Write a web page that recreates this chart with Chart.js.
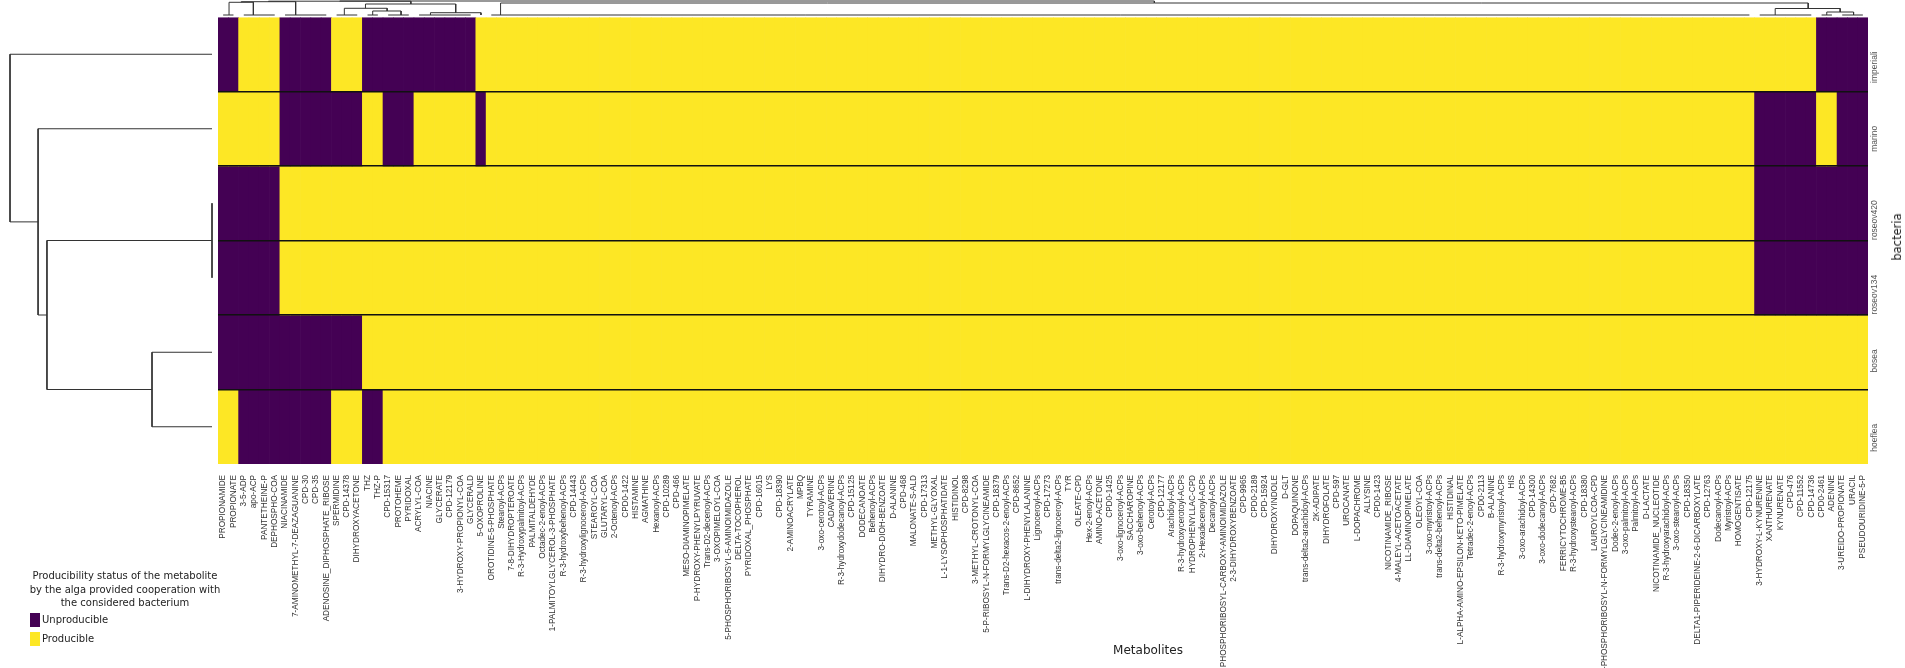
<!DOCTYPE html>
<html><head><meta charset="utf-8">
<script src="https://cdn.jsdelivr.net/npm/chart.js@4.4.1/dist/chart.umd.min.js"></script>
<style>
html,body{margin:0;padding:0;background:#fff;}
body{width:1905px;height:668px;position:relative;overflow:hidden;font-family:"DejaVu Sans",sans-serif;}
canvas{position:absolute;}
#heat{left:0;top:0;}
#rowDendro{left:0;top:0;}
#colDendro{left:218px;top:0;}
.t{position:absolute;color:#222;white-space:nowrap;font-family:"DejaVu Sans",sans-serif;}
.sw{position:absolute;width:10px;height:14px;}
</style></head><body>
<canvas id="heat" width="1905" height="668"></canvas>
<canvas id="rowDendro" width="218" height="481"></canvas>
<canvas id="colDendro" width="1650" height="18"></canvas>
<div class="t" id="xTitle" style="left:1148px;top:650px;font-size:12px;transform:translate(-50%,-50%);">Metabolites</div>
<div class="t" id="yTitle" style="left:1897px;top:237px;font-size:11.5px;transform:translate(-50%,-50%) rotate(-90deg);">bacteria</div>
<div class="t" style="left:5px;top:569px;width:240px;text-align:center;font-size:10px;line-height:13.5px;white-space:normal;">Producibility status of the metabolite<br>by the alga provided cooperation with<br>the considered bacterium</div>
<div class="sw" style="left:30px;top:613px;background:#440154;"></div>
<div class="t" id="lg0" style="left:42px;top:613px;font-size:10px;line-height:14px;"></div>
<div class="sw" style="left:30px;top:632px;background:#fde725;"></div>
<div class="t" id="lg1" style="left:42px;top:632px;font-size:10px;line-height:14px;"></div>
<script>
const bacteria = ['imperiali','marino','roseov420','roseov134','bosea','hoeflea'];
const statusLabels = ['Unproducible','Producible'];
const metabolites = [
'PROPIONAMIDE','PROPIONATE','3-5-ADP','apo-ACP','PANTETHEINE-P','DEPHOSPHO-COA','NIACINAMIDE','7-AMINOMETHYL-7-DEAZAGUANINE','CPD-30','CPD-35',
'ADENOSINE_DIPHOSPHATE_RIBOSE','SPERMIDINE','CPD-14378','DIHYDROXYACETONE','THZ','THZ-P','CPD-15317','PROTOHEME','PYRIDOXAL','ACRYLYL-COA',
'NIACINE','GLYCERATE','CPD-12179','3-HYDROXY-PROPIONYL-COA','GLYCERALD','5-OXOPROLINE','OROTIDINE-5-PHOSPHATE','Stearoyl-ACPs','7-8-DIHYDROPTEROATE','R-3-Hydroxypalmitoyl-ACPs',
'PALMITALDEHYDE','Octadec-2-enoyl-ACPs','1-PALMITOYLGLYCEROL-3-PHOSPHATE','R-3-hydroxybehenoyl-ACPs','CPD-14443','R-3-hydroxylignoceroyl-ACPs','STEAROYL-COA','GLUTARYL-COA','2-Octenoyl-ACPs','CPD0-1422',
'HISTAMINE','AGMATHINE','Hexanoyl-ACPs','CPD-10289','CPD-466','MESO-DIAMINOPIMELATE','P-HYDROXY-PHENYLPYRUVATE','Trans-D2-decenoyl-ACPs','3-OXOPIMELOYL-COA','5-PHOSPHORIBOSYL-5-AMINOIMIDAZOLE',
'DELTA-TOCOPHEROL','PYRIDOXAL_PHOSPHATE','CPD-16015','LYS','CPD-18390','2-AMINOACRYLATE','MPBQ','TYRAMINE','3-oxo-cerotoyl-ACPs','CADAVERINE',
'R-3-hydroxydodecanoyl-ACPs','CPD-15125','DODECANOATE','Behenoyl-ACPs','DIHYDRO-DIOH-BENZOATE','D-ALANINE','CPD-468','MALONATE-S-ALD','CPD-17313','METHYL-GLYOXAL',
'L-1-LYSOPHOSPHATIDATE','HISTIDINOL','CPD-8298','3-METHYL-CROTONYL-COA','5-P-RIBOSYL-N-FORMYLGLYCINEAMIDE','CPD-18379','Trans-D2-hexacos-2-enoyl-ACPs','CPD-8652','L-DIHYDROXY-PHENYLALANINE','Lignoceroyl-ACPs',
'CPD-17273','trans-delta2-lignoceroyl-ACPs','TYR','OLEATE-CPD','Hex-2-enoyl-ACPs','AMINO-ACETONE','CPD0-1425','3-oxo-lignoceroyl-ACPs','SACCHAROPINE','3-oxo-behenoyl-ACPs',
'Cerotoyl-ACPs','CPD-12177','Arachidoyl-ACPs','R-3-hydroxycerotoyl-ACPs','HYDROPHENYLLAC-CPD','2-Hexadecenoyl-ACPs','Decanoyl-ACPs','PHOSPHORIBOSYL-CARBOXY-AMINOIMIDAZOLE','2-3-DIHYDROXYBENZOATE','CPD-9965',
'CPD0-2189','CPD-15924','DIHYDROXYINDOLE','D-GLT','DOPAQUINONE','trans-delta2-arachidoyl-ACPs','2K-ADIPATE','DIHYDROFOLATE','CPD-597','UROCANATE',
'L-DOPACHROME','ALLYSINE','CPD0-1423','NICOTINAMIDE_RIBOSE','4-MALEYL-ACETOACETATE','LL-DIAMINOPIMELATE','OLEOYL-COA','3-oxo-myristoyl-ACPs','trans-delta2-behenoyl-ACPs','HISTIDINAL',
'L-ALPHA-AMINO-EPSILON-KETO-PIMELATE','Tetradec-2-enoyl-ACPs','CPD0-2113','B-ALANINE','R-3-hydroxymyristoyl-ACPs','HIS','3-oxo-arachidoyl-ACPs','CPD-14300','3-oxo-dodecanoyl-ACPs','CPD-7682',
'FERRICYTOCHROME-B5','R-3-hydroxystearoyl-ACPs','CPD-18380','LAUROYLCOA-CPD','5-PHOSPHORIBOSYL-N-FORMYLGLYCINEAMIDINE','Dodec-2-enoyl-ACPs','3-oxo-palmitoyl-ACPs','Palmitoyl-ACPs','D-LACTATE','NICOTINAMIDE_NUCLEOTIDE',
'R-3-hydroxyarachidoyl-ACPs','3-oxo-stearoyl-ACPs','CPD-18350','DELTA1-PIPERIDEINE-2-6-DICARBOXYLATE','CPD-12763','Dodecanoyl-ACPs','Myristoyl-ACPs','HOMOGENTISATE','CPD-12175','3-HYDROXY-L-KYNURENINE',
'XANTHURENATE','KYNURENATE','CPD-476','CPD-11552','CPD-14736','CPD0-2461','ADENINE','3-UREIDO-PROPIONATE','URACIL','PSEUDOURIDINE-5-P'
];
// 1 = Producible, 0 = Unproducible (one value per metabolite, same order)
const imperiali = [
0,0,1,1,1,1,0,0,0,0,0,1,1,1,0,0,0,0,0,0,
0,0,0,0,0,1,1,1,1,1,1,1,1,1,1,1,1,1,1,1,
1,1,1,1,1,1,1,1,1,1,1,1,1,1,1,1,1,1,1,1,
1,1,1,1,1,1,1,1,1,1,1,1,1,1,1,1,1,1,1,1,
1,1,1,1,1,1,1,1,1,1,1,1,1,1,1,1,1,1,1,1,
1,1,1,1,1,1,1,1,1,1,1,1,1,1,1,1,1,1,1,1,
1,1,1,1,1,1,1,1,1,1,1,1,1,1,1,1,1,1,1,1,
1,1,1,1,1,1,1,1,1,1,1,1,1,1,1,0,0,0,0,0];
const marino = [
1,1,1,1,1,1,0,0,0,0,0,0,0,0,1,1,0,0,0,1,
1,1,1,1,1,0,1,1,1,1,1,1,1,1,1,1,1,1,1,1,
1,1,1,1,1,1,1,1,1,1,1,1,1,1,1,1,1,1,1,1,
1,1,1,1,1,1,1,1,1,1,1,1,1,1,1,1,1,1,1,1,
1,1,1,1,1,1,1,1,1,1,1,1,1,1,1,1,1,1,1,1,
1,1,1,1,1,1,1,1,1,1,1,1,1,1,1,1,1,1,1,1,
1,1,1,1,1,1,1,1,1,1,1,1,1,1,1,1,1,1,1,1,
1,1,1,1,1,1,1,1,1,0,0,0,0,0,0,1,1,0,0,0];
const roseov420 = [
0,0,0,0,0,0,1,1,1,1,1,1,1,1,1,1,1,1,1,1,
1,1,1,1,1,1,1,1,1,1,1,1,1,1,1,1,1,1,1,1,
1,1,1,1,1,1,1,1,1,1,1,1,1,1,1,1,1,1,1,1,
1,1,1,1,1,1,1,1,1,1,1,1,1,1,1,1,1,1,1,1,
1,1,1,1,1,1,1,1,1,1,1,1,1,1,1,1,1,1,1,1,
1,1,1,1,1,1,1,1,1,1,1,1,1,1,1,1,1,1,1,1,
1,1,1,1,1,1,1,1,1,1,1,1,1,1,1,1,1,1,1,1,
1,1,1,1,1,1,1,1,1,0,0,0,0,0,0,0,0,0,0,0];
const roseov134 = [
0,0,0,0,0,0,1,1,1,1,1,1,1,1,1,1,1,1,1,1,
1,1,1,1,1,1,1,1,1,1,1,1,1,1,1,1,1,1,1,1,
1,1,1,1,1,1,1,1,1,1,1,1,1,1,1,1,1,1,1,1,
1,1,1,1,1,1,1,1,1,1,1,1,1,1,1,1,1,1,1,1,
1,1,1,1,1,1,1,1,1,1,1,1,1,1,1,1,1,1,1,1,
1,1,1,1,1,1,1,1,1,1,1,1,1,1,1,1,1,1,1,1,
1,1,1,1,1,1,1,1,1,1,1,1,1,1,1,1,1,1,1,1,
1,1,1,1,1,1,1,1,1,0,0,0,0,0,0,0,0,0,0,0];
const bosea = [
0,0,0,0,0,0,0,0,0,0,0,0,0,0,1,1,1,1,1,1,
1,1,1,1,1,1,1,1,1,1,1,1,1,1,1,1,1,1,1,1,
1,1,1,1,1,1,1,1,1,1,1,1,1,1,1,1,1,1,1,1,
1,1,1,1,1,1,1,1,1,1,1,1,1,1,1,1,1,1,1,1,
1,1,1,1,1,1,1,1,1,1,1,1,1,1,1,1,1,1,1,1,
1,1,1,1,1,1,1,1,1,1,1,1,1,1,1,1,1,1,1,1,
1,1,1,1,1,1,1,1,1,1,1,1,1,1,1,1,1,1,1,1,
1,1,1,1,1,1,1,1,1,1,1,1,1,1,1,1,1,1,1,1];
const hoeflea = [
1,1,0,0,0,0,0,0,0,0,0,1,1,1,0,0,1,1,1,1,
1,1,1,1,1,1,1,1,1,1,1,1,1,1,1,1,1,1,1,1,
1,1,1,1,1,1,1,1,1,1,1,1,1,1,1,1,1,1,1,1,
1,1,1,1,1,1,1,1,1,1,1,1,1,1,1,1,1,1,1,1,
1,1,1,1,1,1,1,1,1,1,1,1,1,1,1,1,1,1,1,1,
1,1,1,1,1,1,1,1,1,1,1,1,1,1,1,1,1,1,1,1,
1,1,1,1,1,1,1,1,1,1,1,1,1,1,1,1,1,1,1,1,
1,1,1,1,1,1,1,1,1,1,1,1,1,1,1,1,1,1,1,1];
// row dendrogram links: [left pos, right pos, left child height, right child height, merge height]
const rowLinks = [
[2.5,3.5,0,0,0],
[4.5,5.5,0,0,2.97],
[3.0,5.0,0,2.97,8.17],
[1.5,4.0,0,8.17,8.61],
[0.5,2.75,0,8.61,10]];
// column dendrogram links (same format, positions in metabolite index units, heights 0..1)
const colLinks = [
[0.5,1.5,0,0,0],[2.5,5.5,0,0,0],[6.5,10.5,0,0,0],[11.5,13.5,0,0,0],[14.5,15.5,0,0,0],
[16.5,18.5,0,0,0],[19.5,24.5,0,0,0],[26.5,148.5,0,0,0],[149.5,154.5,0,0,0],[155.5,156.5,0,0,0],[157.5,159.5,0,0,0],
[1.07,3.43,0,0,0.847],
[2.25,7.53,0.847,0,0.887],
[15.0,17.75,0,0,0.267],
[12.25,16.4,0,0.267,0.447],
[20.6,25.5,0,0,0.153],
[14.3,23.05,0.447,0.153,0.733],
[4.89,18.7,0.887,0.733,0.92],
[156.0,158.6,0,0,0.2],
[151.0,157.3,0,0.2,0.433],
[27.4,154.2,0,0.433,0.8],
[11.8,90.8,0.92,0.8,0.933]];

const PURPLE = '#440154', YELLOW = '#fde725';
const producibility = {imperiali, marino, roseov420, roseov134, bosea, hoeflea};
document.getElementById('lg0').textContent = statusLabels[0];
document.getElementById('lg1').textContent = statusLabels[1];

const rowLabelPlugin = {
  id: 'rowLabels',
  afterDraw(chart) {
    const ctx = chart.ctx, ys = chart.scales.y;
    ctx.save();
    ctx.fillStyle = '#555';
    ctx.font = '8.5px "Liberation Sans"';
    ctx.textAlign = 'right';
    ctx.textBaseline = 'middle';
    bacteria.forEach((b, i) => {
      ctx.save();
      ctx.translate(chart.chartArea.right + 7, ys.getPixelForValue(i + 0.5) - 3);
      ctx.rotate(-Math.PI / 2);
      ctx.fillText(b, 0, 0);
      ctx.restore();
    });
    ctx.restore();
  }
};

new Chart(document.getElementById('heat'), {
  type: 'bar',
  data: {
    labels: metabolites,
    datasets: bacteria.map(b => ({
      label: b,
      data: producibility[b].map(() => 1),
      backgroundColor: producibility[b].map(v => v ? YELLOW : PURPLE),
      borderWidth: 0,
      barPercentage: 1,
      categoryPercentage: 1
    }))
  },
  options: {
    responsive: false, animation: false, devicePixelRatio: 1,
    layout: {padding: {top: 17, left: 0, right: 0, bottom: 0}},
    plugins: {legend: {display: false}, tooltip: {enabled: false}},
    scales: {
      x: {
        stacked: true,
        grid: {display: false}, border: {display: false},
        ticks: {autoSkip: false, minRotation: 90, maxRotation: 90, padding: 3, color: '#333',
                font: {family: 'Liberation Sans', size: 8.2}},
        afterFit: s => { s.height = 204; }
      },
      y: {
        stacked: true, min: 0, max: 6, reverse: true, position: 'left',
        ticks: {display: false, stepSize: 1},
        grid: {z: 1, drawTicks: false, lineWidth: 1.5,
               color: c => (c.tick && c.tick.value > 0 && c.tick.value < 6) ? '#111' : 'rgba(0,0,0,0)'},
        border: {display: false},
        afterFit: s => { s.width = 218; }
      },
      yr: {
        position: 'right', display: true,
        ticks: {display: false}, grid: {display: false, drawTicks: false}, border: {display: false},
        afterFit: s => { s.width = 37; }
      }
    }
  },
  plugins: [rowLabelPlugin]
});

function linkData(l, horizontal) {
  const pts = horizontal
    ? [[l[0], l[2]], [l[0], l[4]], [l[1], l[4]], [l[1], l[3]]]
    : [[l[2], l[0]], [l[4], l[0]], [l[4], l[1]], [l[3], l[1]]];
  return pts.map(p => ({x: p[0], y: p[1]}));
}
const lineStyle = {showLine: true, borderColor: '#333', borderWidth: 1, pointRadius: 0, clip: false, tension: 0};

new Chart(document.getElementById('rowDendro'), {
  type: 'scatter',
  data: {datasets: rowLinks.map(l => Object.assign({data: linkData(l, false)}, lineStyle))},
  options: {
    responsive: false, animation: false, devicePixelRatio: 1,
    layout: {padding: {left: 10, right: 6, top: 17, bottom: 17}},
    plugins: {legend: {display: false}, tooltip: {enabled: false}},
    scales: {
      x: {type: 'linear', display: false, min: 0, max: 10, reverse: true},
      y: {type: 'linear', display: false, min: 0, max: 6, reverse: true}
    }
  }
});

new Chart(document.getElementById('colDendro'), {
  type: 'scatter',
  data: {datasets: colLinks.map(l => Object.assign({data: linkData(l, true)}, lineStyle))},
  options: {
    responsive: false, animation: false, devicePixelRatio: 1,
    layout: {padding: {left: 0, right: 0, top: 0, bottom: 3}},
    plugins: {legend: {display: false}, tooltip: {enabled: false}},
    scales: {
      x: {type: 'linear', display: false, min: 0, max: 160},
      y: {type: 'linear', display: false, min: 0, max: 1}
    }
  }
});
</script>
</body></html>
